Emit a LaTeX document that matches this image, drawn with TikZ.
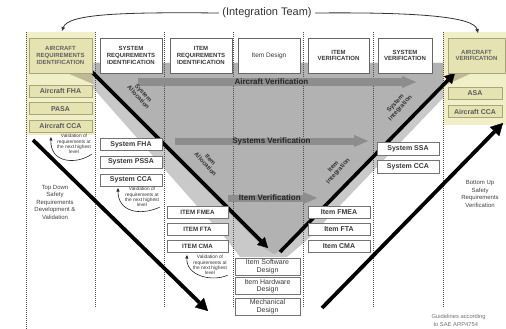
\documentclass[tikz,border=0pt]{standalone}
\usepackage{fontspec}
\setmainfont{Liberation Sans}
\usetikzlibrary{positioning, arrows.meta}

\definecolor{colyellow}{HTML}{F1EFC8}
\definecolor{boxyellow}{HTML}{E6E3B3}
\definecolor{boxolive}{HTML}{A9A57B}
\definecolor{foldolive}{HTML}{BDBA95}
\definecolor{vshade}{HTML}{B2B2B2}
\definecolor{vribbon}{HTML}{C9C9C9}
\definecolor{vbar}{HTML}{8D8D8D}

\begin{document}
\begin{tikzpicture}[
  x=1pt, y=-1pt,
  node distance=5pt,
  every node/.style={text=black!78},
  phase/.style={
    rectangle, draw=black!60, line width=0.8pt, fill=white,
    minimum height=35pt, inner sep=1pt, align=center,
    font=\fontsize{6}{6.8}\selectfont\bfseries,
  },
  acphase/.style={phase, draw=boxolive, fill=boxyellow, text=black!62},
  task/.style={
    rectangle, draw=black!55, line width=0.7pt, fill=white,
    minimum width=62pt, minimum height=12pt, inner sep=0.5pt, align=center,
    font=\fontsize{7}{7.5}\selectfont\bfseries,
  },
  captask/.style={task, font=\fontsize{6.2}{7}\selectfont\bfseries},
  actask/.style={task, draw=boxolive, fill=boxyellow, text=black!65},
  lighttask/.style={task, font=\fontsize{7}{7.5}\selectfont},
  divider/.style={draw=black!70, line width=1pt, dash pattern=on 0.8pt off 1.2pt},
  varrow/.style={-{Triangle[length=10pt,width=11pt,line width=0.4pt]}, line width=3.6pt, draw=black},
  longarrow/.style={-{Triangle[length=12pt,width=13pt,line width=0.4pt]}, line width=3.8pt, draw=black},
  verbar/.style={-{Triangle[length=14pt,width=12pt,line width=0.4pt]}, line width=7pt, draw=vbar},
  barlabel/.style={font=\fontsize{8}{8}\selectfont\bfseries, text=black!85, inner sep=0.5pt},
  flowlabel/.style={font=\fontsize{6.2}{6.6}\selectfont\bfseries, align=center, text=black!80, inner sep=0.5pt},
  note/.style={font=\fontsize{4.8}{5.2}\selectfont, align=center, text=black!80, inner sep=0.5pt},
  sidenote/.style={font=\fontsize{6}{7.5}\selectfont, align=center, text=black!75},
  loop/.style={-{Triangle[length=3.5pt,width=3pt]}, line width=0.6pt, draw=black!85},
  teamarrow/.style={-{Triangle[length=4pt,width=3.5pt]}, line width=0.8pt, draw=black!80},
]
  \useasboundingbox (0,0) rectangle (506,329);
  \fill[white] (0,0) rectangle (506,329);

  % highlighted aircraft columns
  \fill[colyellow] (26,32) rectangle (95,135);
  \fill[colyellow] (443,32) rectangle (506,125);

  % the V
  \fill[vribbon] (93,63) -- (443,63) -- (443,98) -- (307,240) -- (287,257)
    -- (240,257) -- (227,240) -- (93,88) -- cycle;
  \fill[vshade] (95,63) -- (443,63) -- (443,86) -- (286,248) -- (274,254)
    -- (264,248) -- (95,77) -- cycle;
  \fill[foldolive] (67,73) -- (93,73) -- (93,84) -- cycle;
  \fill[foldolive] (448,73) -- (472,73) -- (448,84) -- cycle;

  % column dividers
  \draw[divider] (26,32) -- (26,329);
  \foreach \x in {95,164,233,303,373,443}
    \draw[divider] (\x,32) -- (\x,308);

  % verification bars
  \coordinate (acvS) at (138,82);
  \coordinate (acvE) at (416,82);
  \coordinate (sysvS) at (175,141);
  \coordinate (sysvE) at (368,141);
  \coordinate (itvS) at (228,198);
  \coordinate (itvE) at (317,198);
  \draw[verbar] (acvS) -- (acvE) node[barlabel, pos=0.48] (acvlbl) {Aircraft Verification};
  \draw[verbar] (sysvS) -- (sysvE) node[barlabel, pos=0.5] (sysvlbl) {Systems Verification};
  \draw[verbar] (itvS) -- (itvE) node[barlabel, pos=0.47] (itvlbl) {Item Verification};

  % allocation / integration
  \coordinate (allocS) at (92,72);
  \coordinate (allocE) at (268,248);
  \coordinate (integS) at (280,252);
  \coordinate (integE) at (455,73);
  \draw[varrow] (allocS) -- (allocE);
  \draw[varrow] (integS) -- (integE);
  \node[flowlabel, rotate=-48] (sysalloc) at (141,95) {System\\Allocation};
  \node[flowlabel, rotate=-48] (itemalloc) at (208,162) {Item\\Allocation};
  \node[flowlabel, rotate=48] (sysinteg) at (398,106) {System\\Integration};
  \node[flowlabel, rotate=48] (iteminteg) at (336,169) {Item\\Integration};

  % safety flows
  \coordinate (tdS) at (33,140);
  \coordinate (tdE) at (208,311);
  \coordinate (buS) at (322,308);
  \coordinate (buE) at (503,123);
  \draw[longarrow] (tdS) -- (tdE);
  \draw[longarrow] (buS) -- (buE);

  % top row
  \node[acphase, minimum width=63pt] (acreq) at (60.5,55.5) {AIRCRAFT\\REQUIREMENTS\\IDENTIFICATION};
  \node[phase, minimum width=62pt] (sysreq) at (131,55.5) {SYSTEM\\REQUIREMENTS\\IDENTIFICATION};
  \node[phase, minimum width=62pt] (itemreq) at (201,55.5) {ITEM\\REQUIREMENTS\\IDENTIFICATION};
  \node[phase, minimum width=62pt, font=\fontsize{6.5}{7}\selectfont] (itemdes) at (269,55.5) {Item Design};
  \node[phase, minimum width=61pt] (itemver) at (338.5,55.5) {ITEM\\VERIFICATION};
  \node[phase, minimum width=54pt] (sysver) at (405,55.5) {SYSTEM\\VERIFICATION};
  \node[acphase, minimum width=57pt] (acver) at (476.5,55.5) {AIRCRAFT\\VERIFICATION};

  % aircraft level
  \node[actask, minimum width=63pt] (acfha) at (60.5,91) {Aircraft FHA};
  \node[actask, minimum width=63pt, below=of acfha] (pasa) {PASA};
  \node[actask, minimum width=63pt, below=of pasa] (accca) {Aircraft CCA};
  \node[actask, minimum width=54pt] (asa) at (475,93) {ASA};
  \node[actask, minimum width=54pt, below=6pt of asa] (acccav) {Aircraft CCA};

  % system level
  \node[task] (sysfha) at (131,144.5) {System FHA};
  \node[task, below=of sysfha] (syspssa) {System PSSA};
  \node[task, below=of syspssa] (syscca) {System CCA};
  \node[task, minimum height=13pt] (sysssa) at (408,148.5) {System SSA};
  \node[task, minimum height=13pt, below=5pt of sysssa] (sysccav) {System CCA};

  % item level
  \node[captask, minimum width=61pt] (itfmea) at (197.5,212.5) {ITEM FMEA};
  \node[captask, minimum width=61pt, below=4pt of itfmea] (itfta) {ITEM FTA};
  \node[captask, minimum width=61pt, below=4pt of itfta] (itcma) {ITEM CMA};
  \node[task] (vfmea) at (339,212) {Item FMEA};
  \node[task, below=4.5pt of vfmea] (vfta) {Item FTA};
  \node[task, below=4.5pt of vfta] (vcma) {Item CMA};

  % design
  \node[lighttask, minimum width=65pt, minimum height=17pt] (swdes) at (267.5,266.5) {Item Software\\Design};
  \node[lighttask, minimum width=65pt, minimum height=17pt, below=2pt of swdes] (hwdes) {Item Hardware\\Design};
  \node[lighttask, minimum width=65pt, minimum height=17pt, below=3pt of hwdes] (mechdes) {Mechanical\\Design};

  % validation loops
  \node[note] (valac) at (74,144) {Validation of\\requirements at\\the next highest\\level};
  \node[note] (valsys) at (142,197) {Validation of\\requirements at\\the next highest\\level};
  \node[note] (valitem) at (210,265) {Validation of\\requirements at\\the next highest\\level};
  \coordinate (valacT) at (51,137);
  \coordinate (valsysT) at (118,188);
  \coordinate (valitemT) at (187,255);
  \draw[loop] (valac.south east) .. controls (76,165) and (50,163) .. (valacT);
  \draw[loop] (valsys.south east) .. controls (140,216) and (118,212) .. (valsysT);
  \draw[loop] (valitem.south east) .. controls (212,282) and (186,276) .. (valitemT);

  % side texts
  \node[sidenote] (topdown) at (55,202) {Top Down\\Safety\\Requirements\\Development \&\\Validation};
  \node[sidenote] (bottomup) at (480,194) {Bottom Up\\Safety\\Requirements\\Verification};
  \node[font=\fontsize{5.8}{8.5}\selectfont, text=black!55, align=left, anchor=west] (guide) at (428,320.5) {Guidelines according\\\hspace{2pt}to SAE ARP4754};

  % integration team
  \node[font=\fontsize{11}{11}\selectfont, text=black!80] (team) at (267,13) {(Integration Team)};
  \coordinate (teamL) at (62,31);
  \coordinate (teamR) at (478,33);
  \draw[teamarrow] (team.west) .. controls (120,12) and (68,14) .. (teamL);
  \draw[teamarrow] (team.east) .. controls (420,12) and (474,17) .. (teamR);
\end{tikzpicture}
\end{document}
